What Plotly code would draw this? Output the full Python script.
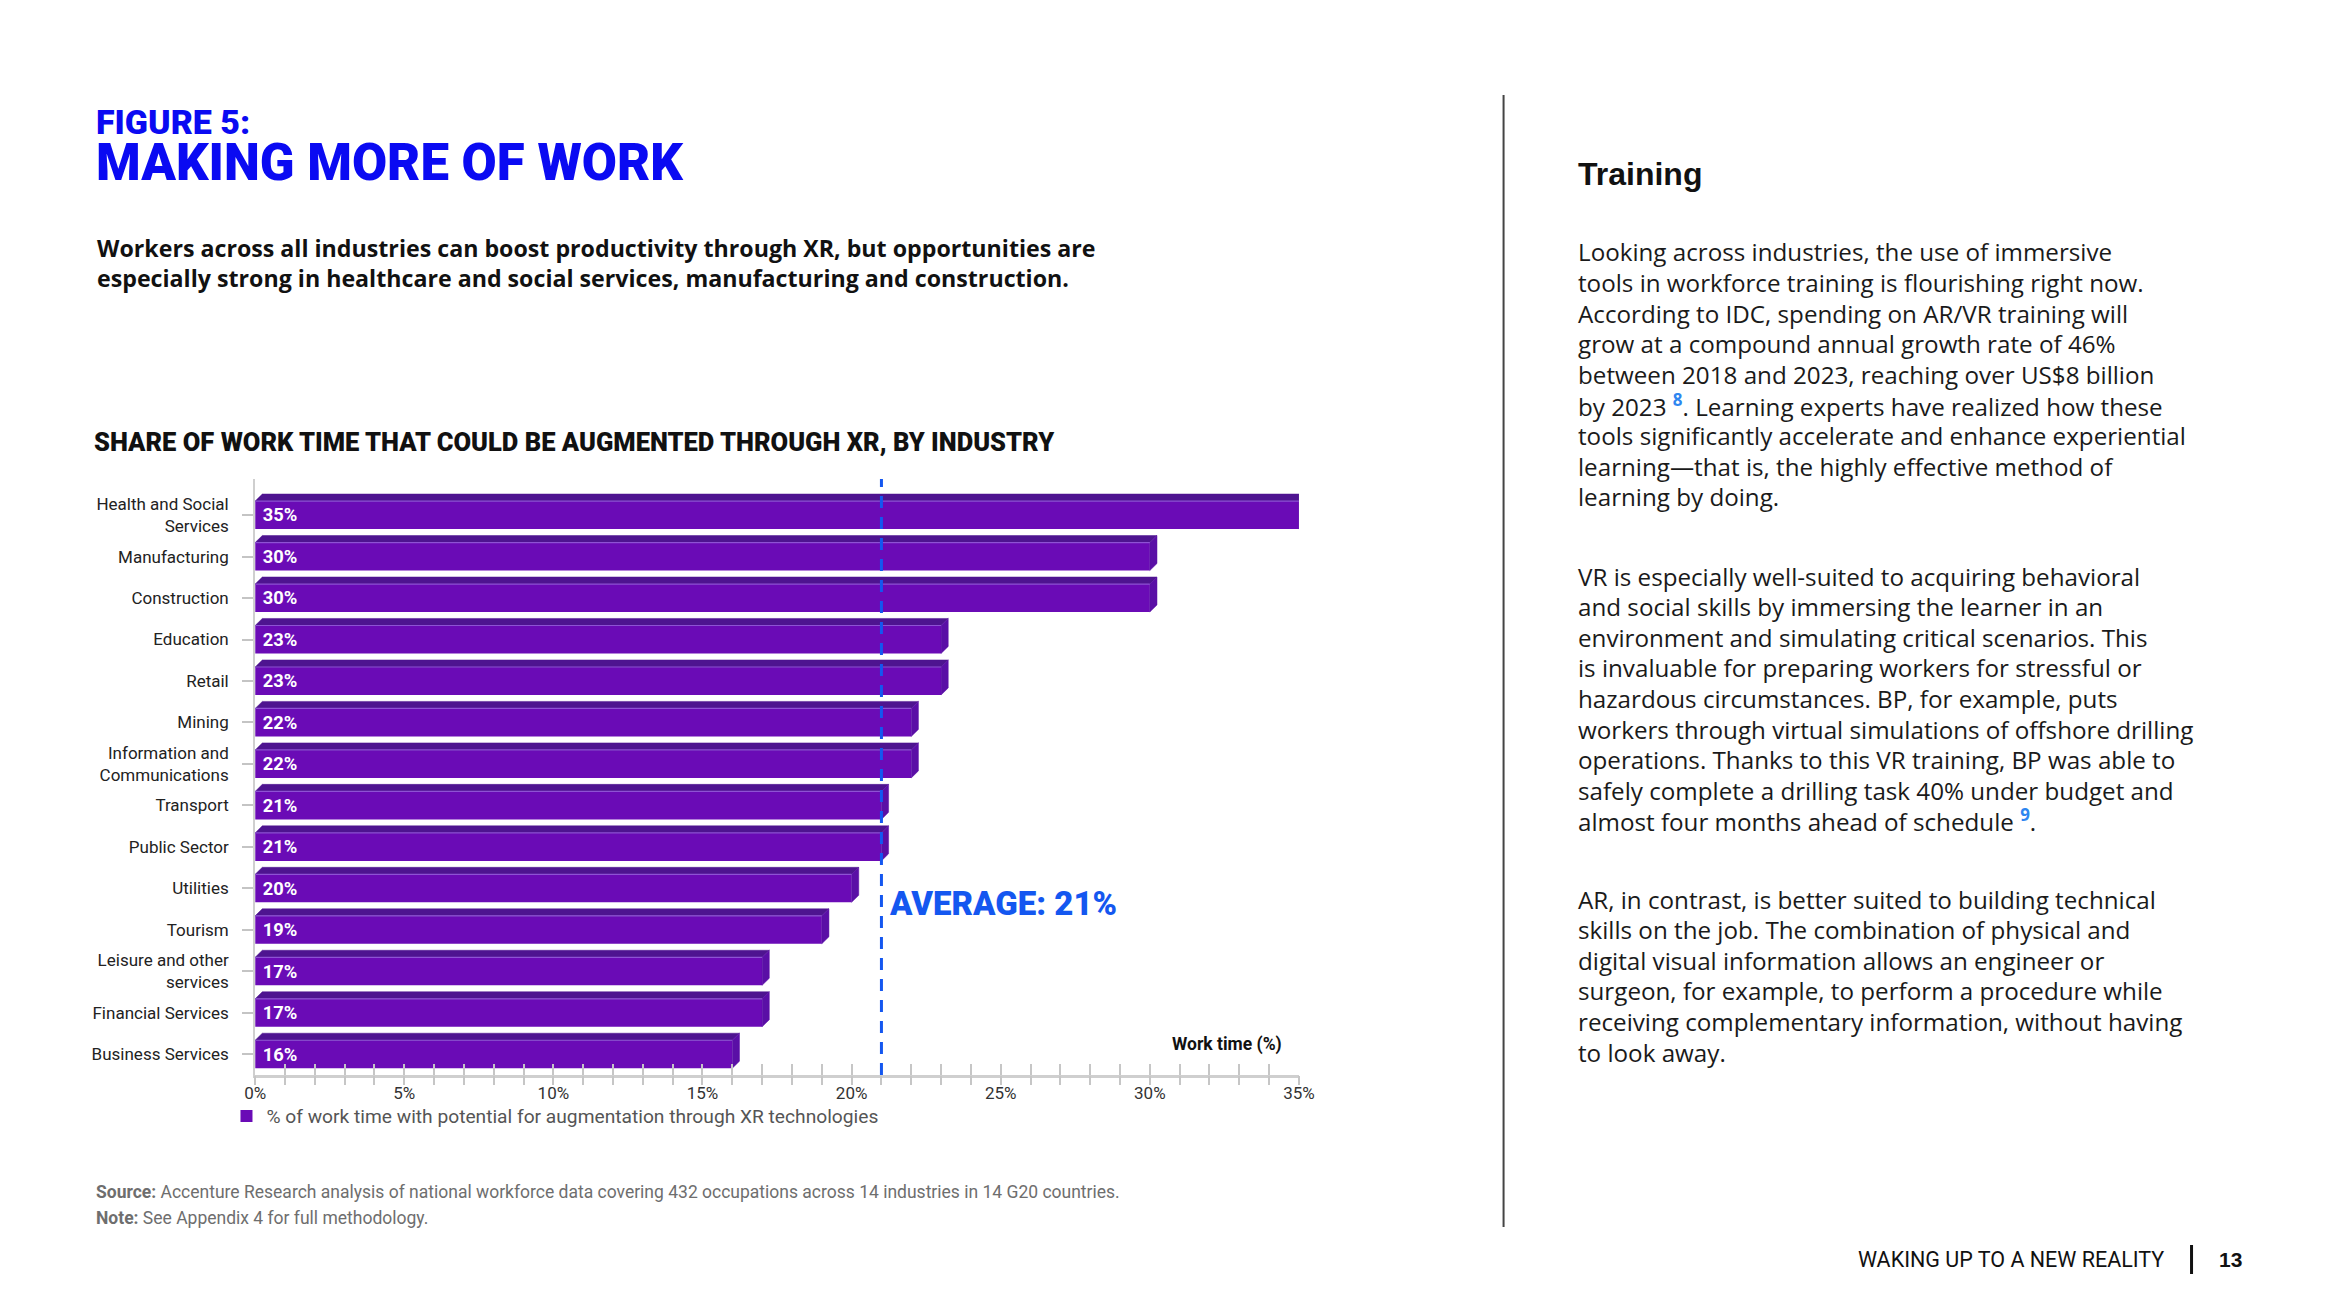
import plotly.graph_objects as go

# ---------------- data ----------------
industries = [
    "Health and Social<br>Services", "Manufacturing", "Construction", "Education", "Retail",
    "Mining", "Information and<br>Communications", "Transport", "Public Sector", "Utilities",
    "Tourism", "Leisure and other<br>services", "Financial Services", "Business Services",
]
values = [35, 30, 30, 23, 23, 22, 22, 21, 21, 20, 19, 17, 17, 16]
average = 21
x_tick_values = [0, 5, 10, 15, 20, 25, 30, 35]
x_tick_labels = ["0%", "5%", "10%", "15%", "20%", "25%", "30%", "35%"]
series_name = "% of work time with potential for augmentation through XR technologies"

# ---------------- page geometry ----------------
W, H = 2339, 1315
def px(x):
    return x / W
def py(y):
    return 1 - y / H

PLOT_L, PLOT_R, PLOT_T, PLOT_B = 247, 1303, 479, 1075

FRONT = "#6A0BB6"
TOP = "#4E1490"
SIDE = "#5A0FA6"
BLUE = "#0A0AF2"
BLUE2 = "#1457F0"

n = len(industries)
pos = [n - 1 - i for i in range(n)]
bar_w = 0.675
dx = 0.24   # depth offset in % units
dy = 0.17   # depth offset in category units

fig = go.Figure()

# front faces
fig.add_trace(go.Bar(
    x=values, y=pos, orientation="h", width=bar_w,
    marker=dict(color=FRONT, line=dict(width=0)),
    text=["\u00a0" + f"{v}%" for v in values],
    textposition="inside", insidetextanchor="start",
    textfont=dict(family="Roboto", size=20, color="white", weight="bold"),
    name=series_name, showlegend=True, cliponaxis=False,
))

# top faces and side faces (3D effect) built from the data values
top_x, top_y, side_x, side_y, edge_x, edge_y = [], [], [], [], [], []
for v, p in zip(values, pos):
    yt = p + bar_w / 2
    yb = p - bar_w / 2
    top_x += [0, v, v + dx, dx, 0, None]
    top_y += [yt, yt, yt + dy, yt + dy, yt, None]
    side_x += [v, v + dx, v + dx, v, v, None]
    side_y += [yt, yt + dy, yb + dy, yb, yt, None]
    edge_x += [0, v, None]
    edge_y += [yt, yt, None]

fig.add_trace(go.Scatter(x=top_x, y=top_y, fill="toself", fillcolor=TOP, mode="lines",
                         line=dict(color=TOP, width=0.5), showlegend=False, hoverinfo="skip",
                         cliponaxis=False))
fig.add_trace(go.Scatter(x=side_x, y=side_y, fill="toself", fillcolor=SIDE, mode="lines",
                         line=dict(color=SIDE, width=0.5), showlegend=False, hoverinfo="skip",
                         cliponaxis=False))
fig.add_trace(go.Scatter(x=edge_x, y=edge_y, mode="lines",
                         line=dict(color="#8E52D4", width=1.2), showlegend=False, hoverinfo="skip",
                         cliponaxis=False))
# helper trace for the crossing tick axis
fig.add_trace(go.Scatter(x=[0], y=[0], xaxis="x2", mode="markers", marker=dict(opacity=0),
                         showlegend=False, hoverinfo="skip"))

fig.update_layout(
    width=W, height=H, margin=dict(l=0, r=0, t=0, b=0),
    paper_bgcolor="white", plot_bgcolor="white",
    font=dict(family="Roboto", color="#222"),
    showlegend=True,
    legend=dict(x=px(218), y=py(1116), xanchor="left", yanchor="middle",
                font=dict(family="Roboto", size=19.2, color="#555"),
                bgcolor="rgba(0,0,0,0)", itemwidth=30),
    xaxis=dict(domain=[px(PLOT_L), px(PLOT_R)], range=[0, 35], anchor="y",
               tickvals=x_tick_values, ticktext=x_tick_labels,
               ticks="inside", ticklen=11, tickwidth=1.5, tickcolor="#c6c6c6",
               minor=dict(dtick=1, ticks="inside", ticklen=11, tickwidth=1.5, tickcolor="#c6c6c6"),
               showline=True, linecolor="#cfcfcf", linewidth=3,
               showgrid=False, zeroline=False, ticklabelstandoff=1,
               tickfont=dict(family="Roboto", size=17, color="#333")),
    xaxis2=dict(domain=[px(PLOT_L), px(PLOT_R)], range=[0, 35], anchor="y", overlaying="x",
                side="bottom", showticklabels=False, dtick=5,
                ticks="outside", ticklen=9, tickwidth=1.5, tickcolor="#c6c6c6",
                minor=dict(dtick=1, ticks="outside", ticklen=9, tickwidth=1.5, tickcolor="#c6c6c6"),
                showline=False, showgrid=False, zeroline=False),
    yaxis=dict(domain=[py(PLOT_B), py(PLOT_T)], range=[-0.5, 13.87],
               tickvals=pos, ticktext=industries,
               ticks="outside", ticklen=11, tickwidth=2, tickcolor="#c4c4c4",
               showline=True, linecolor="#cfcfcf", linewidth=2,
               showgrid=False, zeroline=False, ticklabelstandoff=10,
               tickfont=dict(family="Roboto", size=17, color="#222")),
)

# average dashed line
fig.add_shape(type="line", xref="x", yref="paper", x0=average, x1=average,
              y0=py(PLOT_B), y1=py(PLOT_T), line=dict(color=BLUE2, width=3, dash="12px,9px"))
fig.add_annotation(xref="x", yref="paper", x=average + 0.2, y=py(903), xanchor="left", yanchor="middle",
                   text=f"AVERAGE: {average}%", showarrow=False,
                   font=dict(family="Roboto", size=33, color=BLUE2, weight=900))
fig.add_annotation(xref="paper", yref="paper", x=px(1288), y=py(1044), xanchor="right", yanchor="middle",
                   text="Work time (%)", showarrow=False,
                   font=dict(family="Roboto", size=17.5, color="#111", weight="bold"))

def note(x, y, text, size, color="#111", family="Roboto", anchor="left", weight="normal"):
    fig.add_annotation(xref="paper", yref="paper", x=px(x), y=py(y), xanchor=anchor, yanchor="middle",
                       align=anchor if anchor != "center" else "center",
                       text=text, showarrow=False,
                       font=dict(family=family, size=size, color=color, weight=weight))

def paragraph(x, y_first, text, size, spacing, color="#1a1a1a", family="Open Sans"):
    for k, line in enumerate(text.split("<br>")):
        note(x, y_first + k * spacing, line, size, color, family)

# headings
note(84, 147, "<span style='font-size:34px'>FIGURE 5:</span><br>"
              "<span style='font-size:51px'>MAKING MORE OF WORK</span>", 35.5, BLUE, weight=900)
note(85, 263, "Workers across all industries can boost productivity through XR, but opportunities are<br>"
              "especially strong in healthcare and social services, manufacturing and construction.",
     23.2, "#111", "Open Sans", weight="bold")
note(82, 442, "SHARE OF WORK TIME THAT COULD BE AUGMENTED THROUGH XR, BY INDUSTRY", 25.5, "#111",
     weight=900)

# sources
note(84, 1192, "<b>Source:</b> Accenture Research analysis of national workforce data covering 432 occupations "
               "across 14 industries in 14 G20 countries.", 17.5, "#6e6e6e")
note(84, 1218, "<b>Note:</b> See Appendix 4 for full methodology.", 17.5, "#6e6e6e")

# right panel
fig.add_shape(type="line", xref="paper", yref="paper", x0=px(1510), x1=px(1510), y0=py(95), y1=py(1227),
              line=dict(color="#444", width=2))
note(1583, 174, "Training", 32, "#111", "Liberation Sans", weight="bold")

sup = lambda s: f"<sup><span style='color:#2E86F0'><b>{s}</b></span></sup>"
p1 = ("Looking across industries, the use of immersive<br>"
      "tools in workforce training is flourishing right now.<br>"
      "According to IDC, spending on AR/VR training will<br>"
      "grow at a compound annual growth rate of 46%<br>"
      "between 2018 and 2023, reaching over US$8 billion<br>"
      f"by 2023 {sup('8')}. Learning experts have realized how these<br>"
      "tools significantly accelerate and enhance experiential<br>"
      "learning\u2014that is, the highly effective method of<br>"
      "learning by doing.")
p2 = ("VR is especially well-suited to acquiring behavioral<br>"
      "and social skills by immersing the learner in an<br>"
      "environment and simulating critical scenarios. This<br>"
      "is invaluable for preparing workers for stressful or<br>"
      "hazardous circumstances. BP, for example, puts<br>"
      "workers through virtual simulations of offshore drilling<br>"
      "operations. Thanks to this VR training, BP was able to<br>"
      "safely complete a drilling task 40% under budget and<br>"
      f"almost four months ahead of schedule {sup('9')}.")
p3 = ("AR, in contrast, is better suited to building technical<br>"
      "skills on the job. The combination of physical and<br>"
      "digital visual information allows an engineer or<br>"
      "surgeon, for example, to perform a procedure while<br>"
      "receiving complementary information, without having<br>"
      "to look away.")
paragraph(1583, 252, p1, 24.2, 30.6)
paragraph(1583, 576, p2, 24.2, 30.6)
paragraph(1583, 899, p3, 24.2, 30.6)

# footer
note(2180, 1259, "WAKING UP TO A NEW REALITY", 21.5, "#111", anchor="right")
fig.add_shape(type="line", xref="paper", yref="paper", x0=px(2206), x1=px(2206), y0=py(1245), y1=py(1274),
              line=dict(color="#111", width=3))
note(2232, 1259, "13", 21, "#111", "Liberation Sans", weight="bold")

fig.write_html("out.html", config={"displayModeBar": False},
               post_script="document.body.style.margin='0';document.body.style.overflow='hidden';")
